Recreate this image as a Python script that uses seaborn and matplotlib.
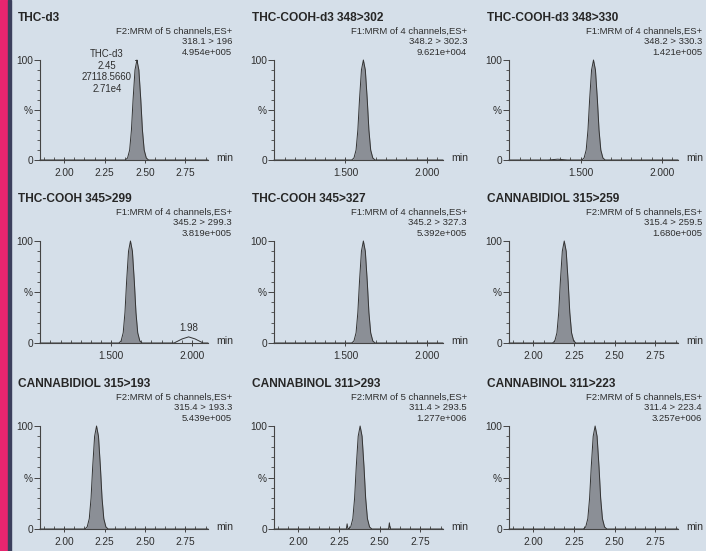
import numpy as np
import pandas as pd
import seaborn as sns
import matplotlib.pyplot as plt
from matplotlib.ticker import MultipleLocator, FixedLocator
from matplotlib.patches import Rectangle

# panel order: row by row
titles = ["THC-d3", "THC-COOH-d3 348>302", "THC-COOH-d3 348>330",
          "THC-COOH 345>299", "THC-COOH 345>327", "CANNABIDIOL 315>259",
          "CANNABIDIOL 315>193", "CANNABINOL 311>293", "CANNABINOL 311>223"]
functions = ["F2:MRM of 5 channels,ES+", "F1:MRM of 4 channels,ES+", "F1:MRM of 4 channels,ES+",
             "F1:MRM of 4 channels,ES+", "F1:MRM of 4 channels,ES+", "F2:MRM of 5 channels,ES+",
             "F2:MRM of 5 channels,ES+", "F2:MRM of 5 channels,ES+", "F2:MRM of 5 channels,ES+"]
transitions = ["318.1 > 196", "348.2 > 302.3", "348.2 > 330.3",
               "345.2 > 299.3", "345.2 > 327.3", "315.4 > 259.5",
               "315.4 > 193.3", "311.4 > 293.5", "311.4 > 223.4"]
max_counts = ["4.954e+005", "9.621e+004", "1.421e+005",
              "3.819e+005", "5.392e+005", "1.680e+005",
              "5.439e+005", "1.277e+006", "3.257e+006"]
apex_times = [2.45, 1.61, 1.58, 1.62, 1.61, 2.19, 2.20, 2.38, 2.38]
time_axis = ["late", "early", "early", "early", "early", "late", "late", "late", "late"]

# shape of the main peaks (minutes from apex, % of max)
profile_dt = [-0.072, -0.058, -0.045, -0.034, -0.024, -0.012, 0.0, 0.012, 0.024, 0.034, 0.045, 0.058, 0.072]
profile_pct = [0, 2, 10, 30, 60, 90, 100, 90, 60, 30, 10, 2, 0]

# small extra features (time, %)
extra_t = {2: [1.30, 1.36, 1.42],
           3: [1.89, 1.94, 1.98, 2.02, 2.07],
           7: [2.295, 2.30, 2.305, 2.555, 2.56, 2.565]}
extra_pct = {2: [0, 0.8, 0],
             3: [0, 4, 6, 4, 0],
             7: [0, 5, 0, 0, 6, 0]}

xlims = {"late": (1.85, 2.89), "early": (1.06, 2.10)}
xticks = {"late": [2.00, 2.25, 2.50, 2.75], "early": [1.5, 2.0]}
xticklabels = {"late": ["2.00", "2.25", "2.50", "2.75"], "early": ["1.500", "2.000"]}

W, H = 706, 551
cols_px = [(40, 208), (274, 443), (509, 678)]
rows_px = [(60, 160), (241, 343), (426, 529)]

bg = "#d5dfe9"
ink = "#2e2e2e"

sns.set_theme(style="ticks", rc={"figure.facecolor": bg, "axes.facecolor": "none",
                                 "axes.edgecolor": "#444444", "axes.linewidth": 0.8})
plt.rcParams["font.family"] = ["Liberation Sans", "DejaVu Sans"]

fig = plt.figure(figsize=(W / 100, H / 100), dpi=100)
fig.patches.append(Rectangle((0, 0), 8 / W, 1, transform=fig.transFigure,
                             color="#e8256f", zorder=5))
fig.patches.append(Rectangle((8 / W, 0), 3 / W, 1, transform=fig.transFigure,
                             color="#3b3f5c", zorder=5))


def fx(px):
    return px / W


def fy(py):
    return 1 - py / H


for i, title in enumerate(titles):
    r, c = divmod(i, 3)
    x0, x1 = cols_px[c]
    y0, y1 = rows_px[r]
    ax = fig.add_axes([fx(x0), fy(y1), (x1 - x0) / W, (y1 - y0) / H])
    kind = time_axis[i]

    # main peak trace
    pk_t = [apex_times[i] + d for d in profile_dt]
    pts_t = [xlims[kind][0]] + pk_t + [xlims[kind][1]]
    pts_y = [0] + profile_pct + [0]
    if i in extra_t:
        pts_t += extra_t[i]
        pts_y += extra_pct[i]
    df = pd.DataFrame({"t": pts_t, "pct": pts_y}).sort_values("t")

    ax.fill_between(pk_t, profile_pct, color="#8b8f96", lw=0)
    sns.lineplot(data=df, x="t", y="pct", ax=ax, color="#333333", lw=0.7,
                 sort=False, estimator=None)
    for ln in ax.lines:
        ln.set_clip_on(False)

    ax.set_xlim(*xlims[kind])
    ax.set_ylim(0, 100)
    ax.set_xlabel("")
    ax.set_ylabel("")
    sns.despine(ax=ax)

    ax.yaxis.set_major_locator(FixedLocator([0, 50, 100]))
    ax.set_yticklabels(["0", "%", "100"])
    ax.yaxis.set_minor_locator(MultipleLocator(10))
    ax.xaxis.set_major_locator(FixedLocator(xticks[kind]))
    ax.set_xticklabels(xticklabels[kind])
    ax.xaxis.set_minor_locator(MultipleLocator(0.0625))
    ax.tick_params(axis="y", which="major", length=4, width=0.7, pad=1,
                   labelsize=7.3, colors="#444444", labelcolor=ink)
    ax.tick_params(axis="y", which="minor", length=2.5, width=0.6, colors="#444444")
    ax.tick_params(axis="x", which="major", direction="inout", length=5, width=0.7,
                   pad=3, labelsize=7.3, colors="#444444", labelcolor=ink)
    ax.tick_params(axis="x", which="minor", direction="in", length=2.5, width=0.6,
                   colors="#444444")

    # header texts
    fig.text(fx(x0 - 22), fy(y0 - 42), title, fontsize=8.6, fontweight="bold",
             color="#262626", ha="left", va="center")
    for k, txt in enumerate([functions[i], transitions[i], max_counts[i]]):
        fig.text(fx(x1 + 24), fy(y0 - 29 + 10.8 * k), txt, fontsize=6.8,
                 color=ink, ha="right", va="center")
    fig.text(fx(x1 + 8), fy(y1 - 2), "min", fontsize=7.6, color=ink,
             ha="left", va="center")

    if i == 0:
        ax.plot([apex_times[i] - 0.014, apex_times[i], apex_times[i]], [100, 100, 97],
                color="#333333", lw=0.7, clip_on=False)
        fig.text(fx(107), fy(49), "THC-d3\n2.45\n27118.5660\n2.71e4", fontsize=6.9,
                 color=ink, ha="center", va="top", linespacing=1.2)
    if i == 3:
        ax.text(1.98, 10, "1.98", fontsize=7, color=ink, ha="center", va="bottom")

fig.savefig("out.png", dpi=100, facecolor=bg)
